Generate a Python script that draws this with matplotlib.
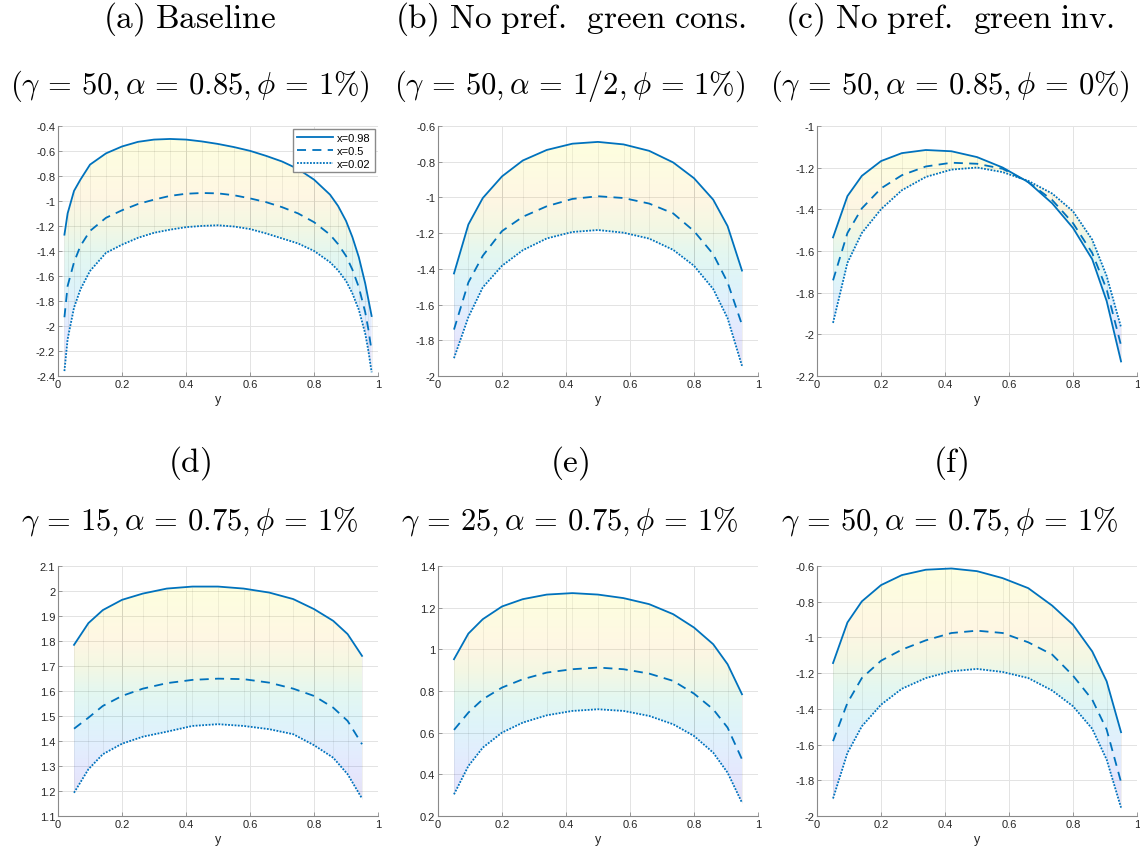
import numpy as np
import matplotlib
matplotlib.use('Agg')
import matplotlib.pyplot as plt
from matplotlib.colors import LinearSegmentedColormap
from matplotlib.patches import Polygon
from matplotlib.ticker import FormatStrFormatter, MultipleLocator

plt.rcParams['font.family'] = ['Liberation Sans', 'DejaVu Sans']
plt.rcParams['mathtext.fontset'] = 'cm'

# y grid (a) is finer, the others use the same nodes
y_a = [0.02, 0.03, 0.05, 0.07, 0.1, 0.15, 0.2, 0.25, 0.3, 0.35, 0.4, 0.45, 0.5,
       0.55, 0.6, 0.65, 0.7, 0.75, 0.8, 0.85, 0.875, 0.9, 0.92, 0.94, 0.96, 0.97, 0.98]
y_b = [0.05, 0.095, 0.14, 0.2, 0.265, 0.34, 0.42, 0.5, 0.58, 0.66, 0.735, 0.8,
       0.86, 0.905, 0.95]

# (a) baseline
a_hi = [-1.27, -1.10, -0.92, -0.83, -0.71, -0.62, -0.565, -0.528, -0.51, -0.505, -0.51, -0.525, -0.545,
        -0.57, -0.60, -0.64, -0.685, -0.745, -0.83, -0.95, -1.04, -1.16, -1.29, -1.45, -1.66, -1.79, -1.92]
a_mid = [-1.93, -1.68, -1.49, -1.36, -1.24, -1.135, -1.075, -1.025, -0.99, -0.96, -0.943, -0.937, -0.94,
         -0.955, -0.98, -1.01, -1.05, -1.10, -1.17, -1.27, -1.345, -1.44, -1.55, -1.69, -1.89, -2.03, -2.2]
a_lo = [-2.36, -2.105, -1.853, -1.707, -1.56, -1.415, -1.35, -1.295, -1.255, -1.23, -1.21, -1.20, -1.195,
        -1.205, -1.225, -1.26, -1.30, -1.34, -1.40, -1.49, -1.555, -1.64, -1.74, -1.87, -2.06, -2.2, -2.37]
# (b) no pref. green cons.
b_hi = [-1.426, -1.152, -1.004, -0.883, -0.794, -0.735, -0.70, -0.69, -0.704, -0.74, -0.805, -0.893, -1.013, -1.161, -1.41]
b_mid = [-1.74, -1.476, -1.327, -1.189, -1.109, -1.05, -1.009, -0.994, -1.004, -1.035, -1.09, -1.189, -1.318, -1.476, -1.713]
b_lo = [-1.90, -1.67, -1.504, -1.383, -1.296, -1.23, -1.194, -1.183, -1.198, -1.231, -1.294, -1.383, -1.513, -1.676, -1.943]
# (c) no pref. green inv.
c_hi = [-1.535, -1.337, -1.24, -1.169, -1.131, -1.116, -1.122, -1.15, -1.20, -1.27, -1.372, -1.49, -1.64, -1.84, -2.13]
c_mid = [-1.741, -1.514, -1.396, -1.30, -1.237, -1.195, -1.177, -1.182, -1.206, -1.27, -1.356, -1.467, -1.61, -1.784, -2.053]
c_lo = [-1.945, -1.657, -1.514, -1.40, -1.309, -1.245, -1.21, -1.20, -1.222, -1.264, -1.325, -1.41, -1.546, -1.72, -1.966]
# (d) gamma 15
d_hi = [1.784, 1.871, 1.923, 1.964, 1.989, 2.009, 2.017, 2.017, 2.009, 1.993, 1.967, 1.927, 1.88, 1.827, 1.74]
d_mid = [1.449, 1.493, 1.54, 1.58, 1.609, 1.631, 1.644, 1.649, 1.647, 1.633, 1.609, 1.58, 1.533, 1.48, 1.387]
d_lo = [1.193, 1.287, 1.347, 1.389, 1.417, 1.437, 1.46, 1.467, 1.46, 1.447, 1.427, 1.383, 1.333, 1.267, 1.17]
# (e) gamma 25
e_hi = [0.952, 1.075, 1.144, 1.205, 1.24, 1.262, 1.269, 1.262, 1.245, 1.216, 1.168, 1.104, 1.024, 0.928, 0.784]
e_mid = [0.613, 0.696, 0.76, 0.816, 0.856, 0.888, 0.904, 0.912, 0.904, 0.883, 0.848, 0.787, 0.712, 0.624, 0.472]
e_lo = [0.304, 0.44, 0.528, 0.60, 0.648, 0.683, 0.704, 0.712, 0.704, 0.68, 0.64, 0.584, 0.504, 0.408, 0.264]
# (f) gamma 50
f_hi = [-1.144, -0.917, -0.799, -0.708, -0.652, -0.622, -0.615, -0.63, -0.669, -0.725, -0.823, -0.93, -1.079, -1.246, -1.531]
f_mid = [-1.581, -1.367, -1.228, -1.131, -1.069, -1.017, -0.976, -0.963, -0.976, -1.028, -1.097, -1.215, -1.349, -1.516, -1.81]
f_lo = [-1.902, -1.647, -1.498, -1.377, -1.288, -1.228, -1.19, -1.177, -1.194, -1.228, -1.298, -1.386, -1.512, -1.684, -1.953]

titles1 = [r'$\mathrm{(a)\ Baseline}$', r'$\mathrm{(b)\ No\ pref.\ \,green\ cons.}$',
           r'$\mathrm{(c)\ No\ pref.\ \,green\ inv.}$', r'$\mathrm{(d)}$', r'$\mathrm{(e)}$', r'$\mathrm{(f)}$']
titles2 = [r'$(\gamma\,=\,50, \alpha\,=\,0.85, \phi\,=\,1\%)$', r'$(\gamma\,=\,50, \alpha\,=\,1/2, \phi\,=\,1\%)$',
           r'$(\gamma\,=\,50, \alpha\,=\,0.85, \phi\,=\,0\%)$', r'$\gamma\,=\,15, \alpha\,=\,0.75, \phi\,=\,1\%$',
           r'$\gamma\,=\,25, \alpha\,=\,0.75, \phi\,=\,1\%$', r'$\gamma\,=\,50, \alpha\,=\,0.75, \phi\,=\,1\%$']

panels = [(y_a, a_hi, a_mid, a_lo, (-2.4, -0.4), 0.2),
          (y_b, b_hi, b_mid, b_lo, (-2.0, -0.6), 0.2),
          (y_b, c_hi, c_mid, c_lo, (-2.2, -1.0), 0.2),
          (y_b, d_hi, d_mid, d_lo, (1.1, 2.1), 0.1),
          (y_b, e_hi, e_mid, e_lo, (0.2, 1.4), 0.2),
          (y_b, f_hi, f_mid, f_lo, (-2.0, -0.6), 0.2)]

parula = LinearSegmentedColormap.from_list('parula', [
    (0.2422, 0.1504, 0.6603), (0.2810, 0.3228, 0.9579), (0.1786, 0.5289, 0.9682),
    (0.0689, 0.6948, 0.8394), (0.2161, 0.7843, 0.5923), (0.6720, 0.7793, 0.2227),
    (0.9970, 0.7659, 0.2199), (0.9600, 0.8900, 0.1500), (0.9769, 0.9839, 0.0805)])

blue = '#0072BD'
fig = plt.figure(figsize=(11.4, 8.54), dpi=100)

lefts = [0.0509, 0.3842, 0.7167]
bottoms = [0.5585, 0.0433]
xc = [1/6, 0.5, 5/6]
ty1 = [0.978, 0.458]
ty2 = [0.899, 0.389]

for i, (ys, hi, mid, lo, ylim, step) in enumerate(panels):
    r, c = divmod(i, 3)
    ax = fig.add_axes([lefts[c], bottoms[r], 0.2807, 0.293])
    xs = np.array(ys)
    curves = np.array([hi, mid, lo])
    top = curves.max(axis=0)
    bot = curves.min(axis=0)

    # faint colored surface between the extreme curves
    verts = np.column_stack([np.r_[xs, xs[::-1]], np.r_[bot, top[::-1]]])
    poly = Polygon(verts, closed=True, facecolor='none', edgecolor='none')
    ax.add_patch(poly)
    grad = np.linspace(0, 1, 256).reshape(-1, 1)
    im = ax.imshow(grad, extent=(xs[0], xs[-1], bot.min(), top.max()), origin='lower',
                   aspect='auto', cmap=parula, alpha=0.14, interpolation='bilinear', zorder=1)
    im.set_clip_path(poly)
    ax.vlines(xs, bot, top, colors='k', alpha=0.07, lw=0.6, zorder=1.5)

    ax.plot(xs, hi, color=blue, lw=1.3, ls='-', label='x=0.98', zorder=3)
    ax.plot(xs, mid, color=blue, lw=1.3, ls=(0, (5, 3.5)), label='x=0.5', zorder=3)
    ax.plot(xs, lo, color=blue, lw=1.3, ls=(0, (1, 0.8)), label='x=0.02', zorder=3)

    ax.set_xlim(0, 1)
    ax.set_ylim(*ylim)
    ax.xaxis.set_major_locator(MultipleLocator(0.2))
    ax.yaxis.set_major_locator(MultipleLocator(step))
    ax.xaxis.set_major_formatter(FormatStrFormatter('%g'))
    ax.yaxis.set_major_formatter(FormatStrFormatter('%g'))
    ax.grid(True, color='#e3e3e3', lw=0.7, zorder=0)
    ax.set_axisbelow(True)
    for s in ['top', 'right']:
        ax.spines[s].set_visible(False)
    for s in ['left', 'bottom']:
        ax.spines[s].set_color('#8a8a8a')
        ax.spines[s].set_linewidth(0.8)
    ax.tick_params(direction='in', length=3, width=0.6, color='#8a8a8a',
                   labelsize=8, labelcolor='#262626', pad=2)
    ax.set_xlabel('y', fontsize=9, color='#262626', labelpad=3)

    if i == 0:
        ax.legend(loc='upper right', fontsize=8, frameon=True, fancybox=False,
                  edgecolor='#8a8a8a', framealpha=1, handlelength=3.2,
                  borderpad=0.35, labelspacing=0.25, handletextpad=0.4, borderaxespad=0.3)

    fig.text(xc[c], ty1[r], titles1[i], ha='center', va='center', fontsize=24)
    fig.text(xc[c], ty2[r], titles2[i], ha='center', va='center', fontsize=22)

fig.savefig('out.png', dpi=100)
